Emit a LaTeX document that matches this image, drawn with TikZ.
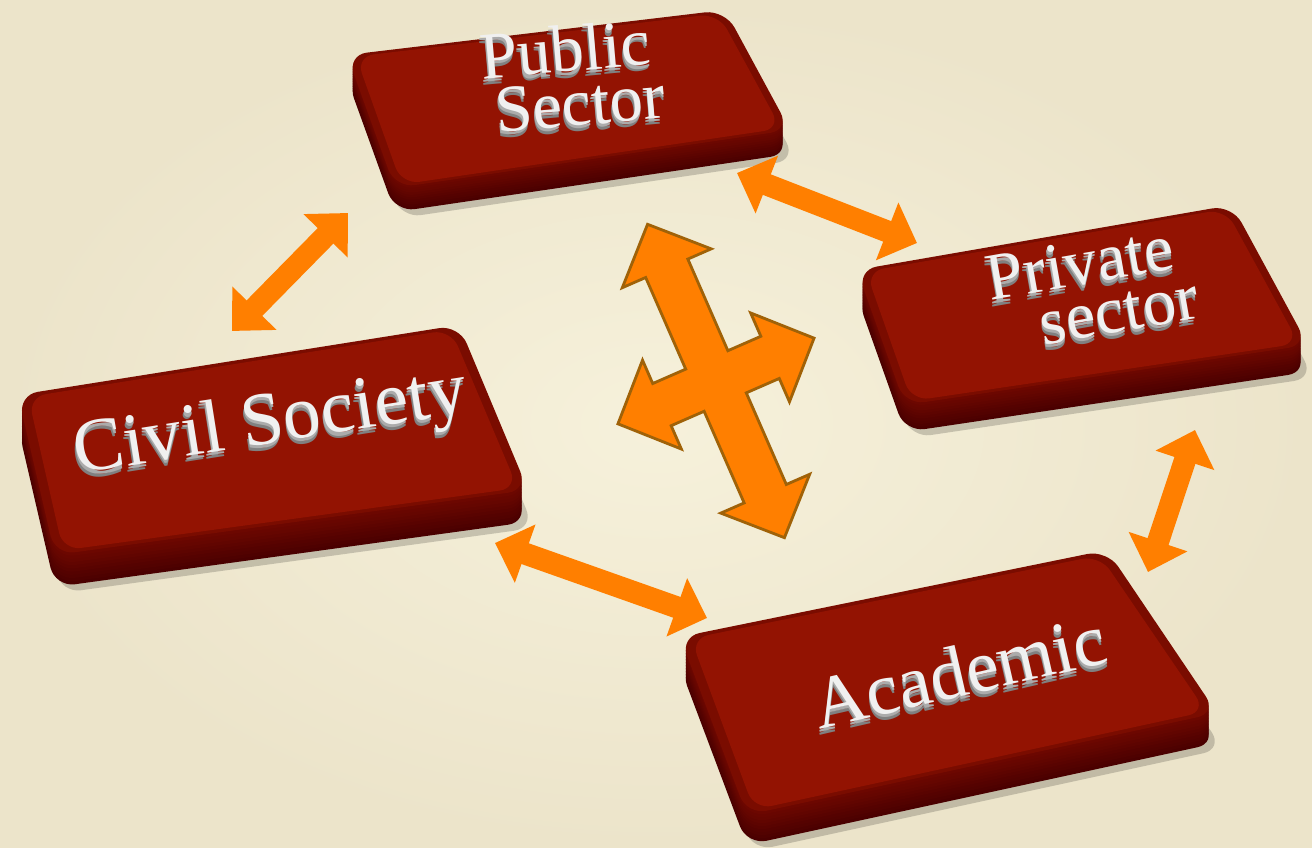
\documentclass[tikz,border=0pt]{standalone}
\usepackage{fontspec}
\setmainfont{Liberation Serif}
\usetikzlibrary{arrows.meta,calc}

\definecolor{paper}{RGB}{246,241,219}
\definecolor{paperedge}{RGB}{236,228,202}
\definecolor{keyred}{RGB}{147,19,2}
\definecolor{keyrim}{RGB}{122,12,0}
\definecolor{keyside}{RGB}{112,8,0}
\definecolor{keydeep}{RGB}{74,0,0}
\definecolor{arrorange}{RGB}{255,127,0}
\definecolor{arredge}{RGB}{160,98,8}
\definecolor{letterside}{RGB}{150,150,150}

% white letters with a grey extruded side
\newcommand\embossed[1]{%
  \makebox[0pt][l]{\raisebox{-1.7pt}{\kern-0.4pt\color{letterside!85!black}#1}}%
  \makebox[0pt][l]{\raisebox{-0.9pt}{\kern-0.2pt\color{letterside!80!white}#1}}%
  {\color{white!94!black}#1}}

% a slab with corners #1-a .. #1-d (top face) and depth #2
\newcommand\keyslab[2]{%
  \fill[black, opacity=.18, rounded corners=.2cm]
    ([shift={(.06,-#2-.06)}]#1-a) -- ([shift={(.06,-#2-.06)}]#1-b)
    -- ([shift={(.06,-#2-.06)}]#1-c) -- ([shift={(.06,-#2-.06)}]#1-d) -- cycle;
  \foreach \i in {10,...,1}{%
    \pgfmathsetmacro\d{#2*\i/10}
    \pgfmathtruncatemacro\m{10*\i}
    \fill[keydeep!\m!keyside, rounded corners=.2cm]
      ([yshift=-\d cm]#1-a) -- ([yshift=-\d cm]#1-b)
      -- ([yshift=-\d cm]#1-c) -- ([yshift=-\d cm]#1-d) -- cycle;
  }
  \fill[keyrim, rounded corners=.2cm] (#1-a) -- (#1-b) -- (#1-c) -- (#1-d) -- cycle;
  \fill[keyred, rounded corners=.18cm]
    ($(#1-a)!.02!(#1-c)$) -- ($(#1-b)!.02!(#1-d)$)
    -- ($(#1-c)!.02!(#1-a)$) -- ($(#1-d)!.02!(#1-b)$) -- cycle;
}

\newcommand\crossoutline{(0,1.71) -- (-.485,1.23) -- (-.23,1.23) -- (-.23,.23)
  -- (-.59,.23) -- (-.59,.485) -- (-1.07,0) -- (-.59,-.485) -- (-.59,-.23)
  -- (-.23,-.23) -- (-.23,-1.23) -- (-.485,-1.23) -- (0,-1.71) -- (.485,-1.23)
  -- (.23,-1.23) -- (.23,-.23) -- (.59,-.23) -- (.59,-.485) -- (1.07,0)
  -- (.59,.485) -- (.59,.23) -- (.23,.23) -- (.23,1.23) -- (.485,1.23) -- cycle}

\begin{document}
\begin{tikzpicture}[
    keytext/.style={align=center, inner sep=0pt},
    link/.style={draw=arrorange, line width=.22cm,
      {Triangle[length=.32cm,width=.6cm]}-{Triangle[length=.32cm,width=.6cm]}},
  ]
  \useasboundingbox (0,0) rectangle (13.12,8.48);
  \shade[inner color=paper, outer color=paperedge] (0,0) rectangle (13.12,8.48);

  % top faces of the keys
  \coordinate (pub-a) at (3.47,7.93);
  \coordinate (pub-b) at (7.25,8.38);
  \coordinate (pub-c) at (7.90,7.18);
  \coordinate (pub-d) at (3.95,6.60);
  \coordinate (priv-a) at (8.57,5.78);
  \coordinate (priv-b) at (12.32,6.43);
  \coordinate (priv-c) at (13.08,5.03);
  \coordinate (priv-d) at (9.05,4.43);
  \coordinate (civ-a) at (0.18,4.53);
  \coordinate (civ-b) at (4.59,5.23);
  \coordinate (civ-c) at (5.28,3.58);
  \coordinate (civ-d) at (0.55,2.93);
  \coordinate (acad-a) at (6.80,2.11);
  \coordinate (acad-b) at (11.07,2.98);
  \coordinate (acad-c) at (12.17,1.35);
  \coordinate (acad-d) at (7.47,0.33);

  \keyslab{pub}{.24}
  \keyslab{priv}{.27}
  \keyslab{civ}{.32}
  \keyslab{acad}{.30}

  \node[keytext, rotate=5, font=\fontsize{19}{12.5}\selectfont] (pubtxt) at (5.68,7.69)
    {\embossed{Public}\\\hspace*{.2cm}\embossed{Sector}};
  \node[keytext, rotate=10, font=\fontsize{19}{15}\selectfont] (privtxt) at (10.85,5.56)
    {\embossed{Private}\\\hspace*{.6cm}\embossed{sector}};
  \node[keytext, rotate=9, font=\fontsize{21.5}{24}\selectfont] (civtxt) at (2.71,4.20)
    {\embossed{Civil Society}};
  \node[keytext, rotate=13, font=\fontsize{21}{24}\selectfont] (acadtxt) at (9.60,1.74)
    {\embossed{Academic}};

  % arrow ends between the keys
  \coordinate (pub-left) at (3.48,6.35);
  \coordinate (civ-top) at (2.32,5.17);
  \coordinate (pub-right) at (7.37,6.75);
  \coordinate (priv-left) at (9.17,6.05);
  \coordinate (civ-right) at (4.95,3.05);
  \coordinate (acad-left) at (7.07,2.30);
  \coordinate (priv-bottom) at (11.95,4.18);
  \coordinate (acad-top) at (11.48,2.76);

  \draw[link] (pub-left) -- (civ-top);
  \draw[link] (pub-right) -- (priv-left);
  \draw[link] (civ-right) -- (acad-left);
  \draw[link] (priv-bottom) -- (acad-top);

  % four-way arrow in the middle
  \coordinate (hub) at (7.16,4.67);
  \foreach \s/\o in {.11/.08,.08/.1,.05/.14}
    \fill[black, opacity=\o, shift={(\s,-\s)}, shift={(hub)}, rotate=23.6] \crossoutline;
  \filldraw[fill=arrorange, draw=arredge, line width=.8pt, shift={(hub)}, rotate=23.6] \crossoutline;
\end{tikzpicture}
\end{document}
